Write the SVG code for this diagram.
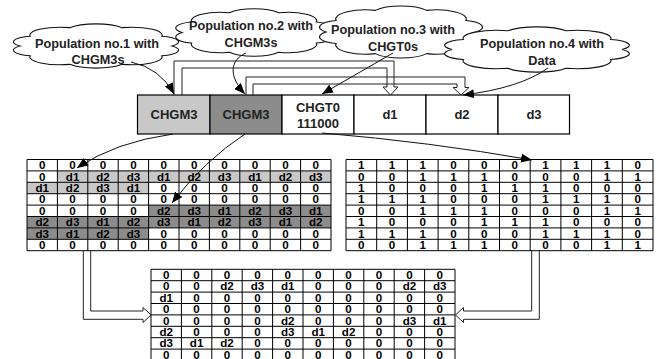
<svg xmlns="http://www.w3.org/2000/svg" width="665" height="359" viewBox="0 0 665 359">
<style>
.cloud{fill:#fff;stroke:#111;stroke-width:1.1}
.ct{font-family:"Liberation Sans",Arial,sans-serif;font-weight:bold;font-size:12.7px;fill:#222;text-anchor:middle}
.bt{font-family:"Liberation Sans",Arial,sans-serif;font-weight:bold;font-size:13px;fill:#222;text-anchor:middle}
.t{font-family:"Liberation Sans",Arial,sans-serif;font-weight:bold;font-size:11.6px;fill:#000;text-anchor:middle}
.grid{fill:none;stroke:#000;stroke-width:1}
.cell{stroke:#000;stroke-width:1.2}
.con{fill:none;stroke:#111;stroke-width:1}
.blk{fill:none;stroke:#222;stroke-width:1}
.lt{fill:#c8c8c8}
.dk{fill:#8c8c8c}
</style>
<defs>
<marker id="ah" markerUnits="userSpaceOnUse" markerWidth="11" markerHeight="9" refX="11" refY="4.5" orient="auto">
<path d="M0,0 L11,4.5 L0,9 Z" fill="#000"/>
</marker>
</defs>

<g id="cloud1">
<path class="cloud" d="M172,46 A22.8,5.85 0 0 1 161.8,55.75 A30.4,7.8 0 0 1 122,64.33 A30.4,7.8 0 0 1 70,64.33 A30.4,7.8 0 0 1 30.2,55.75 A22.8,5.85 0 0 1 20,46 A22.8,5.85 0 0 1 30.2,36.25 A30.4,7.8 0 0 1 70,27.67 A30.4,7.8 0 0 1 122,27.67 A30.4,7.8 0 0 1 161.8,36.25 A22.8,5.85 0 0 1 172,46 Z"/>
<text class="ct" x="97" y="47.5">Population no.1 with</text>
<text class="ct" x="98" y="64">CHGM3s</text>
</g>
<g id="cloud2">
<path class="cloud" d="M326,32.5 A21.6,6.3 0 0 1 316.35,43 A28.8,8.4 0 0 1 278.6,52.24 A28.8,8.4 0 0 1 229.4,52.24 A28.8,8.4 0 0 1 191.65,43 A21.6,6.3 0 0 1 182,32.5 A21.6,6.3 0 0 1 191.65,22 A28.8,8.4 0 0 1 229.4,12.76 A28.8,8.4 0 0 1 278.6,12.76 A28.8,8.4 0 0 1 316.35,22 A21.6,6.3 0 0 1 326,32.5 Z"/>
<text class="ct" x="251" y="30">Population no.2 with</text>
<text class="ct" x="251" y="46.5">CHGM3s</text>
</g>
<g id="cloud3">
<path class="cloud" d="M476,32 A22.5,6.9 0 0 1 465.95,43.5 A30,9.2 0 0 1 426.65,53.62 A30,9.2 0 0 1 375.35,53.62 A30,9.2 0 0 1 336.05,43.5 A22.5,6.9 0 0 1 326,32 A22.5,6.9 0 0 1 336.05,20.5 A30,9.2 0 0 1 375.35,10.38 A30,9.2 0 0 1 426.65,10.38 A30,9.2 0 0 1 465.95,20.5 A22.5,6.9 0 0 1 476,32 Z"/>
<text class="ct" x="393" y="34">Population no.3 with</text>
<text class="ct" x="393" y="51">CHGT0s</text>
</g>
<g id="cloud4">
<path class="cloud" d="M622,49.5 A25.5,6 0 0 1 610.6,59.5 A34,8 0 0 1 566.07,68.3 A34,8 0 0 1 507.93,68.3 A34,8 0 0 1 463.4,59.5 A25.5,6 0 0 1 452,49.5 A25.5,6 0 0 1 463.4,39.5 A34,8 0 0 1 507.93,30.7 A34,8 0 0 1 566.07,30.7 A34,8 0 0 1 610.6,39.5 A25.5,6 0 0 1 622,49.5 Z"/>
<text class="ct" x="542" y="48">Population no.4 with</text>
<text class="ct" x="542" y="64.5">Data</text>
</g>

<g id="bar">
<rect class="cell lt" x="137.5" y="95" width="72.5" height="39"/>
<rect class="cell dk" x="210" y="95" width="72" height="39"/>
<rect class="cell" fill="#fff" x="282" y="95" width="72" height="39"/>
<rect class="cell" fill="#fff" x="354" y="95" width="72" height="39"/>
<rect class="cell" fill="#fff" x="426" y="95" width="72" height="39"/>
<rect class="cell" fill="#fff" x="498" y="95" width="71.5" height="39"/>
<text class="bt" x="174" y="119">CHGM3</text>
<text class="bt" x="246" y="119">CHGM3</text>
<text class="bt" x="318" y="111.5">CHGT0</text>
<text class="bt" x="318" y="128">111000</text>
<text class="bt" x="390" y="119">d1</text>
<text class="bt" x="462" y="119">d2</text>
<text class="bt" x="534" y="119">d3</text>
</g>

<g id="table-left">
<rect class="lt" x="57.4" y="170.9" width="273.6" height="11.4"/>
<rect class="lt" x="27" y="182.3" width="121.6" height="11.4"/>
<rect class="dk" x="148.6" y="205.1" width="182.4" height="11.4"/>
<rect class="dk" x="27" y="216.5" width="304" height="11.4"/>
<rect class="dk" x="27" y="227.9" width="121.6" height="11.4"/>
<path class="grid" d="M27,159.5V250.7M57.4,159.5V250.7M87.8,159.5V250.7M118.2,159.5V250.7M148.6,159.5V250.7M179,159.5V250.7M209.4,159.5V250.7M239.8,159.5V250.7M270.2,159.5V250.7M300.6,159.5V250.7M331,159.5V250.7M27,159.5H331M27,170.9H331M27,182.3H331M27,193.7H331M27,205.1H331M27,216.5H331M27,227.9H331M27,239.3H331M27,250.7H331"/>
<text class="t" y="169.1"><tspan x="42.2">0</tspan><tspan x="72.6">0</tspan><tspan x="103">0</tspan><tspan x="133.4">0</tspan><tspan x="163.8">0</tspan><tspan x="194.2">0</tspan><tspan x="224.6">0</tspan><tspan x="255">0</tspan><tspan x="285.4">0</tspan><tspan x="315.8">0</tspan></text>
<text class="t" y="180.5"><tspan x="42.2">0</tspan><tspan x="72.6">d1</tspan><tspan x="103">d2</tspan><tspan x="133.4">d3</tspan><tspan x="163.8">d1</tspan><tspan x="194.2">d2</tspan><tspan x="224.6">d3</tspan><tspan x="255">d1</tspan><tspan x="285.4">d2</tspan><tspan x="315.8">d3</tspan></text>
<text class="t" y="191.9"><tspan x="42.2">d1</tspan><tspan x="72.6">d2</tspan><tspan x="103">d3</tspan><tspan x="133.4">d1</tspan><tspan x="163.8">0</tspan><tspan x="194.2">0</tspan><tspan x="224.6">0</tspan><tspan x="255">0</tspan><tspan x="285.4">0</tspan><tspan x="315.8">0</tspan></text>
<text class="t" y="203.3"><tspan x="42.2">0</tspan><tspan x="72.6">0</tspan><tspan x="103">0</tspan><tspan x="133.4">0</tspan><tspan x="163.8">0</tspan><tspan x="194.2">0</tspan><tspan x="224.6">0</tspan><tspan x="255">0</tspan><tspan x="285.4">0</tspan><tspan x="315.8">0</tspan></text>
<text class="t" y="214.7"><tspan x="42.2">0</tspan><tspan x="72.6">0</tspan><tspan x="103">0</tspan><tspan x="133.4">0</tspan><tspan x="163.8">d2</tspan><tspan x="194.2">d3</tspan><tspan x="224.6">d1</tspan><tspan x="255">d2</tspan><tspan x="285.4">d3</tspan><tspan x="315.8">d1</tspan></text>
<text class="t" y="226.1"><tspan x="42.2">d2</tspan><tspan x="72.6">d3</tspan><tspan x="103">d1</tspan><tspan x="133.4">d2</tspan><tspan x="163.8">d3</tspan><tspan x="194.2">d1</tspan><tspan x="224.6">d2</tspan><tspan x="255">d3</tspan><tspan x="285.4">d1</tspan><tspan x="315.8">d2</tspan></text>
<text class="t" y="237.5"><tspan x="42.2">d3</tspan><tspan x="72.6">d1</tspan><tspan x="103">d2</tspan><tspan x="133.4">d3</tspan><tspan x="163.8">0</tspan><tspan x="194.2">0</tspan><tspan x="224.6">0</tspan><tspan x="255">0</tspan><tspan x="285.4">0</tspan><tspan x="315.8">0</tspan></text>
<text class="t" y="248.9"><tspan x="42.2">0</tspan><tspan x="72.6">0</tspan><tspan x="103">0</tspan><tspan x="133.4">0</tspan><tspan x="163.8">0</tspan><tspan x="194.2">0</tspan><tspan x="224.6">0</tspan><tspan x="255">0</tspan><tspan x="285.4">0</tspan><tspan x="315.8">0</tspan></text>
</g>

<g id="table-right">
<path class="grid" d="M346,159.5V250.7M376.7,159.5V250.7M407.4,159.5V250.7M438.1,159.5V250.7M468.8,159.5V250.7M499.5,159.5V250.7M530.2,159.5V250.7M560.9,159.5V250.7M591.6,159.5V250.7M622.3,159.5V250.7M653,159.5V250.7M346,159.5H653M346,170.9H653M346,182.3H653M346,193.7H653M346,205.1H653M346,216.5H653M346,227.9H653M346,239.3H653M346,250.7H653"/>
<text class="t" y="169.1"><tspan x="361.35">1</tspan><tspan x="392.05">1</tspan><tspan x="422.75">1</tspan><tspan x="453.45">0</tspan><tspan x="484.15">0</tspan><tspan x="514.85">0</tspan><tspan x="545.55">1</tspan><tspan x="576.25">1</tspan><tspan x="606.95">1</tspan><tspan x="637.65">0</tspan></text>
<text class="t" y="180.5"><tspan x="361.35">0</tspan><tspan x="392.05">0</tspan><tspan x="422.75">1</tspan><tspan x="453.45">1</tspan><tspan x="484.15">1</tspan><tspan x="514.85">0</tspan><tspan x="545.55">0</tspan><tspan x="576.25">0</tspan><tspan x="606.95">1</tspan><tspan x="637.65">1</tspan></text>
<text class="t" y="191.9"><tspan x="361.35">1</tspan><tspan x="392.05">0</tspan><tspan x="422.75">0</tspan><tspan x="453.45">0</tspan><tspan x="484.15">1</tspan><tspan x="514.85">1</tspan><tspan x="545.55">1</tspan><tspan x="576.25">0</tspan><tspan x="606.95">0</tspan><tspan x="637.65">0</tspan></text>
<text class="t" y="203.3"><tspan x="361.35">1</tspan><tspan x="392.05">1</tspan><tspan x="422.75">1</tspan><tspan x="453.45">0</tspan><tspan x="484.15">0</tspan><tspan x="514.85">0</tspan><tspan x="545.55">1</tspan><tspan x="576.25">1</tspan><tspan x="606.95">1</tspan><tspan x="637.65">0</tspan></text>
<text class="t" y="214.7"><tspan x="361.35">0</tspan><tspan x="392.05">0</tspan><tspan x="422.75">1</tspan><tspan x="453.45">1</tspan><tspan x="484.15">1</tspan><tspan x="514.85">0</tspan><tspan x="545.55">0</tspan><tspan x="576.25">0</tspan><tspan x="606.95">1</tspan><tspan x="637.65">1</tspan></text>
<text class="t" y="226.1"><tspan x="361.35">1</tspan><tspan x="392.05">0</tspan><tspan x="422.75">0</tspan><tspan x="453.45">0</tspan><tspan x="484.15">1</tspan><tspan x="514.85">1</tspan><tspan x="545.55">1</tspan><tspan x="576.25">0</tspan><tspan x="606.95">0</tspan><tspan x="637.65">0</tspan></text>
<text class="t" y="237.5"><tspan x="361.35">1</tspan><tspan x="392.05">1</tspan><tspan x="422.75">1</tspan><tspan x="453.45">0</tspan><tspan x="484.15">0</tspan><tspan x="514.85">0</tspan><tspan x="545.55">1</tspan><tspan x="576.25">1</tspan><tspan x="606.95">1</tspan><tspan x="637.65">0</tspan></text>
<text class="t" y="248.9"><tspan x="361.35">0</tspan><tspan x="392.05">0</tspan><tspan x="422.75">1</tspan><tspan x="453.45">1</tspan><tspan x="484.15">1</tspan><tspan x="514.85">0</tspan><tspan x="545.55">0</tspan><tspan x="576.25">0</tspan><tspan x="606.95">1</tspan><tspan x="637.65">1</tspan></text>
</g>

<g id="table-bottom">
<path class="grid" d="M151,269.3V360.5M181.4,269.3V360.5M211.8,269.3V360.5M242.2,269.3V360.5M272.6,269.3V360.5M303,269.3V360.5M333.4,269.3V360.5M363.8,269.3V360.5M394.2,269.3V360.5M424.6,269.3V360.5M455,269.3V360.5M151,269.3H455M151,280.7H455M151,292.1H455M151,303.5H455M151,314.9H455M151,326.3H455M151,337.7H455M151,349.1H455M151,360.5H455"/>
<text class="t" y="278.9"><tspan x="166.2">0</tspan><tspan x="196.6">0</tspan><tspan x="227">0</tspan><tspan x="257.4">0</tspan><tspan x="287.8">0</tspan><tspan x="318.2">0</tspan><tspan x="348.6">0</tspan><tspan x="379">0</tspan><tspan x="409.4">0</tspan><tspan x="439.8">0</tspan></text>
<text class="t" y="290.3"><tspan x="166.2">0</tspan><tspan x="196.6">0</tspan><tspan x="227">d2</tspan><tspan x="257.4">d3</tspan><tspan x="287.8">d1</tspan><tspan x="318.2">0</tspan><tspan x="348.6">0</tspan><tspan x="379">0</tspan><tspan x="409.4">d2</tspan><tspan x="439.8">d3</tspan></text>
<text class="t" y="301.7"><tspan x="166.2">d1</tspan><tspan x="196.6">0</tspan><tspan x="227">0</tspan><tspan x="257.4">0</tspan><tspan x="287.8">0</tspan><tspan x="318.2">0</tspan><tspan x="348.6">0</tspan><tspan x="379">0</tspan><tspan x="409.4">0</tspan><tspan x="439.8">0</tspan></text>
<text class="t" y="313.1"><tspan x="166.2">0</tspan><tspan x="196.6">0</tspan><tspan x="227">0</tspan><tspan x="257.4">0</tspan><tspan x="287.8">0</tspan><tspan x="318.2">0</tspan><tspan x="348.6">0</tspan><tspan x="379">0</tspan><tspan x="409.4">0</tspan><tspan x="439.8">0</tspan></text>
<text class="t" y="324.5"><tspan x="166.2">0</tspan><tspan x="196.6">0</tspan><tspan x="227">0</tspan><tspan x="257.4">0</tspan><tspan x="287.8">d2</tspan><tspan x="318.2">0</tspan><tspan x="348.6">0</tspan><tspan x="379">0</tspan><tspan x="409.4">d3</tspan><tspan x="439.8">d1</tspan></text>
<text class="t" y="335.9"><tspan x="166.2">d2</tspan><tspan x="196.6">0</tspan><tspan x="227">0</tspan><tspan x="257.4">0</tspan><tspan x="287.8">d3</tspan><tspan x="318.2">d1</tspan><tspan x="348.6">d2</tspan><tspan x="379">0</tspan><tspan x="409.4">0</tspan><tspan x="439.8">0</tspan></text>
<text class="t" y="347.3"><tspan x="166.2">d3</tspan><tspan x="196.6">d1</tspan><tspan x="227">d2</tspan><tspan x="257.4">0</tspan><tspan x="287.8">0</tspan><tspan x="318.2">0</tspan><tspan x="348.6">0</tspan><tspan x="379">0</tspan><tspan x="409.4">0</tspan><tspan x="439.8">0</tspan></text>
<text class="t" y="358.7"><tspan x="166.2">0</tspan><tspan x="196.6">0</tspan><tspan x="227">0</tspan><tspan x="257.4">0</tspan><tspan x="287.8">0</tspan><tspan x="318.2">0</tspan><tspan x="348.6">0</tspan><tspan x="379">0</tspan><tspan x="409.4">0</tspan><tspan x="439.8">0</tspan></text>
</g>

<g id="connectors">
<path class="blk" d="M174,95 V61 H394 V87 H398 L390.5,95 L383,87 H387 V68 H182 V95"/>
<path class="blk" d="M246,95 V77 H465 V87.5 H469 L461,95 L453,87.5 H457 V84 H253 V95"/>
<path class="blk" d="M83.3,250.7 V319.3 H143 V322.5 L151,315 L143,307.5 V311 H90.7 V250.7"/>
<path class="blk" d="M539.3,250.7 V319.3 H463.5 V322.5 L455.5,315 L463.5,307.5 V311 H531.7 V250.7"/>
<path class="con" marker-end="url(#ah)" d="M131,62 Q160,68 174,94"/>
<path class="con" marker-end="url(#ah)" d="M246,53 C230,60 228,76 245,94"/>
<path class="con" marker-end="url(#ah)" d="M393,53 L322,94"/>
<path class="con" marker-end="url(#ah)" d="M548,68 Q520,88 463,95"/>
<path class="con" marker-end="url(#ah)" d="M173,134 Q115,142 77,168"/>
<path class="con" marker-end="url(#ah)" d="M245,134 Q205,160 172,203"/>
<path class="con" marker-end="url(#ah)" d="M322,133 Q430,142 532,160"/>
</g>
</svg>
